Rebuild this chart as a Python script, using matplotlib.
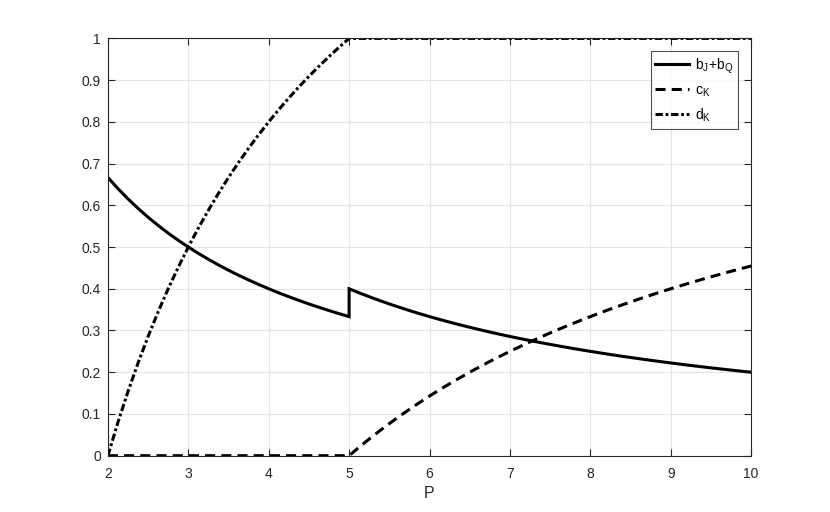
import matplotlib
matplotlib.use("Agg")
import matplotlib.pyplot as plt
from matplotlib.ticker import FixedLocator, FuncFormatter

# Data (P axis samples, piecewise: 2..5 and 5..10)
P1 = [2.0, 2.125, 2.25, 2.375, 2.5, 2.625, 2.75, 2.875, 3.0, 3.125, 3.25,
      3.375, 3.5, 3.625, 3.75, 3.875, 4.0, 4.125, 4.25, 4.375, 4.5, 4.625,
      4.75, 4.875, 5.0]
P2 = [5.0, 5.125, 5.25, 5.375, 5.5, 5.625, 5.75, 5.875, 6.0, 6.125, 6.25,
      6.375, 6.5, 6.625, 6.75, 6.875, 7.0, 7.125, 7.25, 7.375, 7.5, 7.625,
      7.75, 7.875, 8.0, 8.125, 8.25, 8.375, 8.5, 8.625, 8.75, 8.875, 9.0,
      9.125, 9.25, 9.375, 9.5, 9.625, 9.75, 9.875, 10.0]

bJQ_1 = [0.6667, 0.6400, 0.6154, 0.5926, 0.5714, 0.5517, 0.5333, 0.5161,
         0.5000, 0.4848, 0.4706, 0.4571, 0.4444, 0.4324, 0.4211, 0.4103,
         0.4000, 0.3902, 0.3810, 0.3721, 0.3636, 0.3556, 0.3478, 0.3404,
         0.3333]
bJQ_2 = [0.4000, 0.3902, 0.3810, 0.3721, 0.3636, 0.3556, 0.3478, 0.3404,
         0.3333, 0.3265, 0.3200, 0.3137, 0.3077, 0.3019, 0.2963, 0.2909,
         0.2857, 0.2807, 0.2759, 0.2712, 0.2667, 0.2623, 0.2581, 0.2540,
         0.2500, 0.2462, 0.2424, 0.2388, 0.2353, 0.2319, 0.2286, 0.2254,
         0.2222, 0.2192, 0.2162, 0.2133, 0.2105, 0.2078, 0.2051, 0.2025,
         0.2000]

cK_1 = [0.0] * 25
cK_2 = [0.0, 0.0204, 0.0400, 0.0588, 0.0769, 0.0943, 0.1111, 0.1273,
        0.1429, 0.1579, 0.1724, 0.1864, 0.2000, 0.2131, 0.2258, 0.2381,
        0.2500, 0.2615, 0.2727, 0.2836, 0.2941, 0.3043, 0.3143, 0.3239,
        0.3333, 0.3425, 0.3514, 0.3600, 0.3684, 0.3766, 0.3846, 0.3924,
        0.4000, 0.4074, 0.4146, 0.4217, 0.4286, 0.4353, 0.4419, 0.4483,
        0.4545]

dK_1 = [0.0, 0.0800, 0.1538, 0.2222, 0.2857, 0.3448, 0.4000, 0.4516,
        0.5000, 0.5455, 0.5882, 0.6286, 0.6667, 0.7027, 0.7368, 0.7692,
        0.8000, 0.8293, 0.8571, 0.8837, 0.9091, 0.9333, 0.9565, 0.9787,
        1.0]
dK_2 = [1.0] * 41

xticks = [2, 3, 4, 5, 6, 7, 8, 9, 10]
yticks = [0, 0.1, 0.2, 0.3, 0.4, 0.5, 0.6, 0.7, 0.8, 0.9, 1.0]

plt.rcParams['font.family'] = ['Liberation Sans', 'DejaVu Sans']
plt.rcParams['mathtext.fontset'] = 'custom'
plt.rcParams['mathtext.rm'] = 'Liberation Sans'
plt.rcParams['mathtext.it'] = 'Liberation Sans'

fig = plt.figure(figsize=(8.30, 5.12), dpi=100)
ax = fig.add_axes([0.13, 0.11, 0.775, 0.815])

P_all = P1 + P2[1:]
P_b = P1 + P2
b_all = bJQ_1 + bJQ_2
c_all = cK_1 + cK_2[1:]
d_all = dK_1 + dK_2[1:]

lw = 2.2
ax.plot(P_b, b_all, color='black', lw=lw, solid_joinstyle='miter',
        label=r'b$_\mathregular{J}$+b$_\mathregular{Q}$')
ax.plot(P_all, c_all, color='black', lw=lw, dashes=(3.3, 2.0),
        label=r'c$_\mathregular{K}$')
ax.plot(P_all, d_all, color='black', lw=lw, dashes=(2.4, 0.9, 0.9, 0.9),
        label=r'd$_\mathregular{K}$')

ax.set_xlim(2, 10)
ax.set_ylim(0, 1)
ax.xaxis.set_major_locator(FixedLocator(xticks))
ax.yaxis.set_major_locator(FixedLocator(yticks))
ax.yaxis.set_major_formatter(FuncFormatter(lambda v, p: ('%g' % v)))
ax.grid(True, color='#e5e5e5', lw=0.8)
ax.set_axisbelow(True)

edge = '#262626'
for s in ax.spines.values():
    s.set_color(edge)
    s.set_linewidth(0.8)
ax.tick_params(direction='in', length=5, width=0.8, color=edge, labelcolor=edge,
               top=True, right=True, labelsize=10)
ax.tick_params(axis='x', pad=8)
ax.tick_params(axis='y', pad=5)
ax.set_xlabel('P', fontsize=11.5, color=edge, labelpad=4)

leg = ax.legend(loc='upper right', bbox_to_anchor=(0.9798, 0.9688), fontsize=10,
                frameon=True, fancybox=False, handlelength=2.4, borderpad=0.35,
                labelspacing=0.55, handletextpad=0.45, borderaxespad=0.0)
leg.get_frame().set_edgecolor(edge)
leg.get_frame().set_linewidth(0.8)

fig.savefig('out.png', dpi=100)
